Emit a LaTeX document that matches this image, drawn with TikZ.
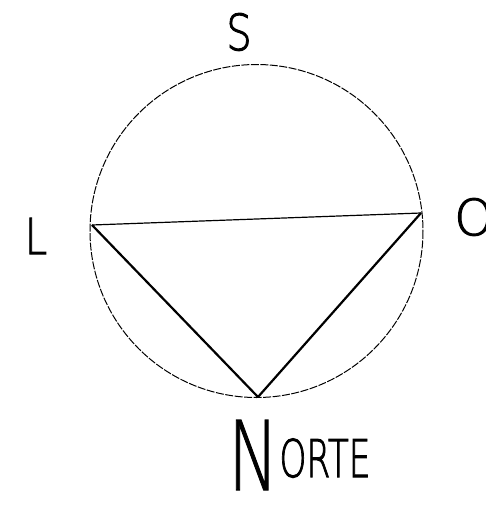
\documentclass[tikz,border=0pt]{standalone}
\usepackage{fontspec}
\setmainfont{DejaVu Sans}
\newfontfamily\handfont[FakeBold=2]{DejaVu Sans ExtraLight}
\newfontfamily\bigfont[FakeBold=1.2]{DejaVu Sans ExtraLight}
\begin{document}
\begin{tikzpicture}[x=1pt,y=-1pt,
  lbl/.style={inner sep=0pt,font=\fontsize{50}{56}\selectfont\handfont},
  thin line/.style={line width=1.2pt},
  thick line/.style={line width=2.2pt}]
\useasboundingbox (0,0) rectangle (486,507);
\coordinate (C) at (256.5,231);
\draw[line width=1pt, dash pattern=on 8pt off 1.5pt] (C) circle (166.5);
\coordinate (L) at (92,225);
\coordinate (O) at (421,213);
\coordinate (N) at (258,397);
\draw[thin line] (L) -- (O);
\draw[thick line] (L) -- (N);
\draw[thick line] (N) -- (O);
\node[lbl, xscale=0.8] (S) at (239,32) {S};
\node[lbl, xscale=0.8] (Ll) at (36,236) {L};
\node[lbl] (Ol) at (474,217) {O};
\node[inner sep=0pt, anchor=base west] (No) at (228,490)
  {\scalebox{0.7}[1]{\bigfont\fontsize{96}{100}\selectfont N}\hspace{1pt}\raisebox{13pt}{\scalebox{0.66}[1]{\handfont\fontsize{52}{56}\selectfont ORTE}}};
\end{tikzpicture}
\end{document}
